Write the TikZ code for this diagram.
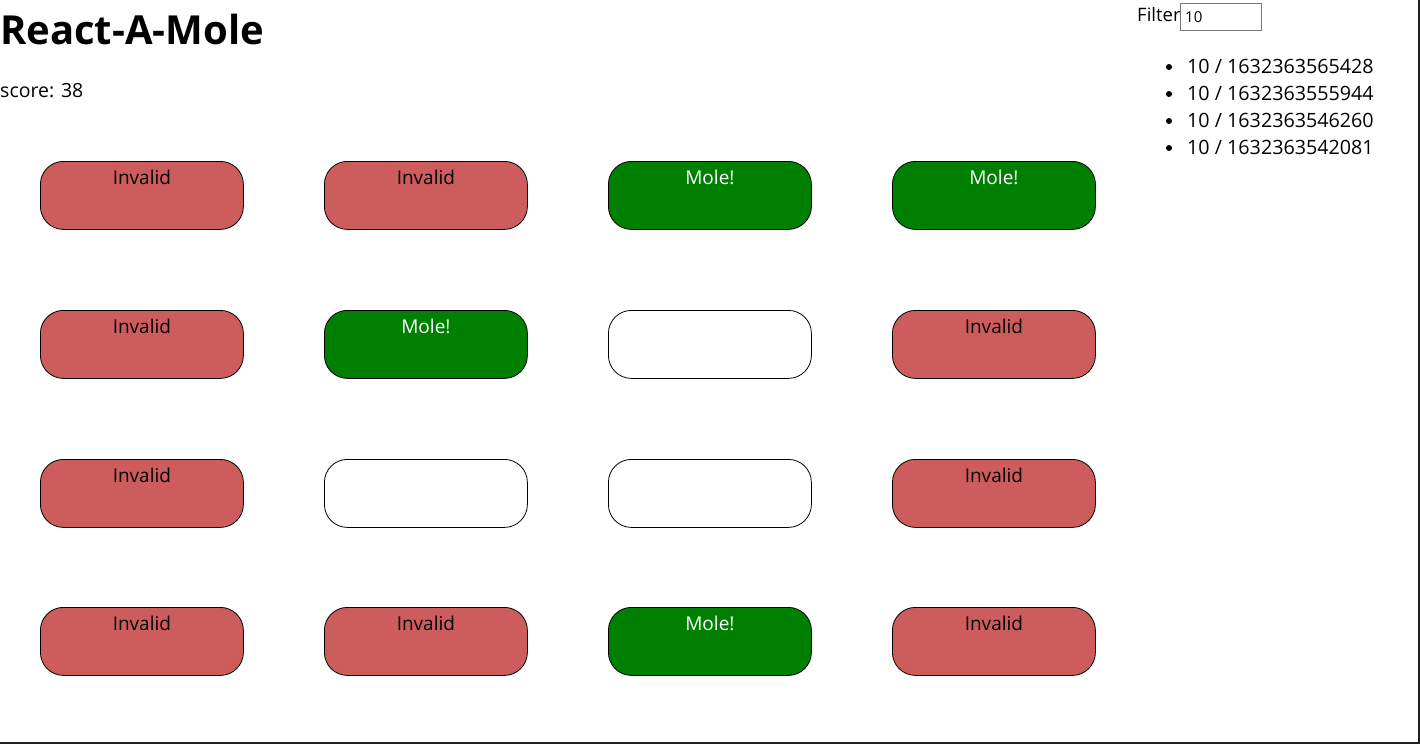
\documentclass[tikz,border=0pt]{standalone}
\usepackage{fontspec}
\setmainfont{Open Sans}
\usetikzlibrary{calc}
\definecolor{invalidred}{HTML}{CD5C5C}
\definecolor{molegreen}{HTML}{008000}
\definecolor{framegray}{HTML}{222222}
\definecolor{inputgray}{HTML}{767676}
\tikzset{
  hole/.style={draw=black, line width=0.8pt, rounded corners=23pt, minimum width=203pt, minimum height=68pt, inner sep=0pt, anchor=north west},
  invalidbox/.style={hole, fill=invalidred},
  molebox/.style={hole, fill=molegreen},
  emptybox/.style={hole, fill=white},
  holetext/.style={anchor=base, inner sep=0pt, font=\fontsize{19}{23}\selectfont},
  listtext/.style={anchor=base west, inner sep=0pt, font=\fontsize{19.7}{24}\selectfont},
  bulletdot/.style={circle, fill=black, minimum size=6pt, inner sep=0pt}
}
\begin{document}
\begin{tikzpicture}[x=1pt,y=-1pt]
\useasboundingbox (0,0) rectangle (1420,744);
\fill[white] (0,0) rectangle (1420,744);
% frame lines
\coordinate (tr) at (1419,0);
\coordinate (br) at (1419,743);
\coordinate (bl) at (0,743);
\draw[framegray, line width=1.3pt] (tr) -- (br) -- (bl);
% title and score
\node[anchor=base west, inner sep=0pt, font=\fontsize{40}{48}\selectfont\bfseries] (title) at (0,44) {React-A-Mole};
\node[anchor=base west, inner sep=0pt, font=\fontsize{19.5}{24}\selectfont] (score) at (0,97) {score: 38};
% filter
\node[anchor=base west, inner sep=0pt, font=\fontsize{18.5}{22}\selectfont] (filterlbl) at (1137,21) {Filter};
\node[draw=inputgray, line width=0.9pt, anchor=north west, minimum width=81pt, minimum height=27pt, inner sep=0pt] (filterbox) at (1180,3) {};
\node[anchor=base west, inner sep=0pt, font=\fontsize{15}{17}\selectfont] (filterval) at (1185,22) {10};
% list
\node[bulletdot] (b1) at (1169,67) {};
\node[listtext] (l1) at (1187,73) {10 / 1632363565428};
\node[bulletdot] (b2) at (1169,94) {};
\node[listtext] (l2) at (1187,100) {10 / 1632363555944};
\node[bulletdot] (b3) at (1169,121) {};
\node[listtext] (l3) at (1187,127) {10 / 1632363546260};
\node[bulletdot] (b4) at (1169,148) {};
\node[listtext] (l4) at (1187,154) {10 / 1632363542081};
% row 1
\node[invalidbox] (h11) at (40,161) {};
\node[holetext] (t11) at ($(h11.north)+(0,23)$) {Invalid};
\node[invalidbox] (h12) at (324,161) {};
\node[holetext] (t12) at ($(h12.north)+(0,23)$) {Invalid};
\node[molebox] (h13) at (608,161) {};
\node[holetext, text=white] (t13) at ($(h13.north)+(0,23)$) {Mole!};
\node[molebox] (h14) at (892,161) {};
\node[holetext, text=white] (t14) at ($(h14.north)+(0,23)$) {Mole!};
% row 2
\node[invalidbox] (h21) at (40,310) {};
\node[holetext] (t21) at ($(h21.north)+(0,23)$) {Invalid};
\node[molebox] (h22) at (324,310) {};
\node[holetext, text=white] (t22) at ($(h22.north)+(0,23)$) {Mole!};
\node[emptybox] (h23) at (608,310) {};
\node[invalidbox] (h24) at (892,310) {};
\node[holetext] (t24) at ($(h24.north)+(0,23)$) {Invalid};
% row 3
\node[invalidbox] (h31) at (40,459) {};
\node[holetext] (t31) at ($(h31.north)+(0,23)$) {Invalid};
\node[emptybox] (h32) at (324,459) {};
\node[emptybox] (h33) at (608,459) {};
\node[invalidbox] (h34) at (892,459) {};
\node[holetext] (t34) at ($(h34.north)+(0,23)$) {Invalid};
% row 4
\node[invalidbox] (h41) at (40,607) {};
\node[holetext] (t41) at ($(h41.north)+(0,23)$) {Invalid};
\node[invalidbox] (h42) at (324,607) {};
\node[holetext] (t42) at ($(h42.north)+(0,23)$) {Invalid};
\node[molebox] (h43) at (608,607) {};
\node[holetext, text=white] (t43) at ($(h43.north)+(0,23)$) {Mole!};
\node[invalidbox] (h44) at (892,607) {};
\node[holetext] (t44) at ($(h44.north)+(0,23)$) {Invalid};
\end{tikzpicture}
\end{document}
